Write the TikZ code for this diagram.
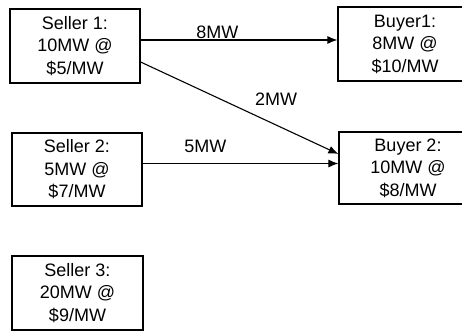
\documentclass[tikz,border=0pt]{standalone}
\usepackage{fontspec}
\setmainfont{Liberation Sans}
\usetikzlibrary{arrows.meta}
\usetikzlibrary{calc,positioning}

\begin{document}
\begin{tikzpicture} [
        x=1pt, y=-1pt,
        party/.style={
            draw,
            rectangle,
            align=center,
            line width=1.2pt,
            inner sep=0pt,
            minimum width=130pt,
            minimum height=74pt,
            font=\fontsize{18}{22.5}\selectfont},
        flow/.style={
            line width=1.1pt,
            -{Latex[length=10pt,width=8pt]}},
        amount/.style={
            inner sep=1pt,
            font=\fontsize{18}{22.5}\selectfont}]

    \useasboundingbox (0,0) rectangle (462,331);

    %sellers
    \node[party] (s1) at (75,46) {Seller 1:\\10MW @\\\$5/MW};
    \node[party, minimum height=73pt] (s2) at (77,169.5) {Seller 2:\\5MW @\\\$7/MW};
    \node[party, minimum width=131pt] (s3) at (77.5,293) {Seller 3:\\20MW @\\\$9/MW};

    %buyers
    \node[party, minimum width=134pt] (b1) at (405,44) {Buyer1:\\8MW @\\\$10/MW};
    \node[party, minimum width=138pt, minimum height=72pt] (b2) at (408,168) {Buyer 2:\\10MW @\\\$8/MW};

    % connect sellers and buyers
    \draw[flow] ([yshift=6pt]s1.east) -- ([yshift=6pt]s1.east -| b1.west)
        node[amount, pos=0.39, above] {8MW};
    \draw[flow] ([yshift=-16pt]s1.east) -- ([yshift=14pt]b2.west)
        node[amount, pos=0.685, above=18pt] {2MW};
    \draw[flow] ([yshift=6pt]s2.east) -- ([yshift=6pt]s2.east -| b2.west)
        node[amount, pos=0.32, above=9pt] {5MW};

\end{tikzpicture}
\end{document}
